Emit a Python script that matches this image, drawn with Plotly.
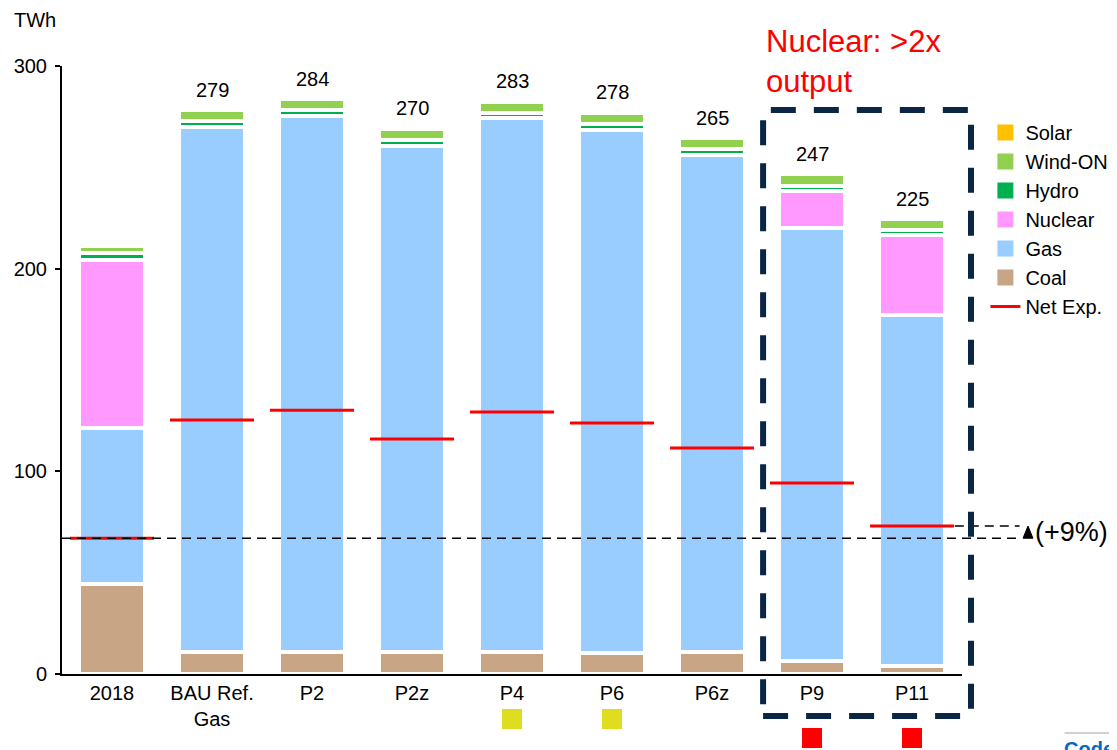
import plotly.graph_objects as go

# ---------------- data ----------------
categories = ["2018", "BAU Ref.<br>Gas", "P2", "P2z", "P4", "P6", "P6z", "P9", "P11"]
coal    = [44.4, 11.1, 11.1, 11.1, 11.1, 10.2, 10.8, 6.6, 3.8]
gas     = [77.0, 258.7, 264.1, 249.5, 263.0, 258.2, 245.4, 213.5, 173.3]
nuclear = [83.1, 0.0, 0.0, 0.0, 0.0, 0.0, 0.0, 18.4, 39.4]
hydro   = [3.4, 2.9, 2.9, 2.9, 2.8, 2.8, 2.8, 2.5, 2.7]
wind_on = [3.3, 5.45, 5.45, 5.4, 5.35, 5.6, 5.6, 5.75, 5.3]
solar   = [0.8, 0.9, 0.5, 1.1, 0.75, 1.2, 0.4, 0.25, 0.5]
totals  = [212, 279, 284, 270, 283, 278, 265, 247, 225]
net_exp = [67.0, 125.3, 130.2, 115.9, 129.3, 123.8, 111.5, 94.2, 73.0]
flags   = [None, None, None, None, "yellow", "yellow", None, "red", "red"]

FONT = "Liberation Sans, Arial, sans-serif"
colors = {
    "Solar": "#FFC000",
    "Wind-ON": "#92D050",
    "Hydro": "#00B050",
    "Nuclear": "#FF99FF",
    "Gas": "#99CCFF",
    "Coal": "#C8A585",
}
series = [("Coal", coal), ("Gas", gas), ("Nuclear", nuclear),
          ("Hydro", hydro), ("Wind-ON", wind_on), ("Solar", solar)]

fig = go.Figure()
for name, vals in series:
    fig.add_trace(go.Bar(
        x=categories, y=vals, name=name, width=0.66,
        marker=dict(color=colors[name], line=dict(color="white", width=4)),
        showlegend=False, hoverinfo="name+y",
    ))

# net exports as wide horizontal dashes
fig.add_trace(go.Scatter(
    x=categories, y=net_exp, mode="markers", name="Net Exp.",
    marker=dict(symbol="line-ew", size=60, color="#FF0000",
                line=dict(color="#FF0000", width=3)),
    showlegend=False, cliponaxis=False,
))

# legend entries (top to bottom)
for name in ["Solar", "Wind-ON", "Hydro", "Nuclear", "Gas", "Coal"]:
    fig.add_trace(go.Scatter(
        x=[None], y=[None], mode="markers", name=name,
        marker=dict(symbol="square", size=16, color=colors[name]),
    ))
fig.add_trace(go.Scatter(
    x=[None], y=[None], mode="lines", name="Net Exp.",
    line=dict(color="#FF0000", width=3),
))

annotations = []
for c, t in zip(categories, totals):
    annotations.append(dict(
        x=c, y=t, text=str(t), showarrow=False, yanchor="bottom", yshift=6,
        font=dict(size=20, color="black", family=FONT),
    ))

annotations += [
    dict(xref="paper", yref="paper", x=-0.056, y=1.055, xanchor="left", yanchor="bottom",
         text="TWh", showarrow=False, font=dict(size=20, color="black", family=FONT)),
    dict(xref="paper", yref="paper", x=0.78, y=1.0717, xanchor="left", yanchor="top",
         text="Nuclear: >2x<br>output", align="left", showarrow=False,
         font=dict(size=31, color="#FF0000", family=FONT)),
    dict(xref="paper", yref="y", x=1.079, y=(net_exp[0] + net_exp[-1]) / 2,
         xanchor="left", yanchor="middle", text="(+9%)", showarrow=False,
         font=dict(size=27, color="black", family=FONT)),
    dict(xref="paper", yref="paper", x=1.111, y=-0.102, xanchor="left", yanchor="top",
         text="<b>Code</b>", showarrow=False,
         font=dict(size=20, color="#0A66C2", family=FONT)),
]

shapes = [
    # dashed reference line at 2018 net exports
    dict(type="line", xref="paper", yref="y", x0=0, x1=1.064,
         y0=net_exp[0], y1=net_exp[0], line=dict(color="black", width=1.5, dash="9px,6px")),
    # dashed line at P11 net exports
    dict(type="line", xref="paper", yref="y", x0=0.992, x1=1.064,
         y0=net_exp[-1], y1=net_exp[-1], line=dict(color="black", width=1.5, dash="9px,6px")),
    # triangle marker
    dict(type="path", xref="paper", yref="y",
         path=f"M 1.0678 {net_exp[0]} L 1.0789 {net_exp[0]} L 1.0733 {net_exp[-1]} Z",
         fillcolor="black", line=dict(color="black", width=1)),
    # dashed highlight box
    dict(type="rect", xref="paper", yref="paper", x0=0.779, x1=1.01, y0=-0.069, y1=0.9276,
         line=dict(color="#0B2545", width=6, dash="25px,18px"), fillcolor="rgba(0,0,0,0)"),
    # thin grey separator bottom right
    dict(type="line", xref="paper", yref="paper", x0=1.114, x1=1.2, y0=-0.097, y1=-0.097,
         line=dict(color="#D0D0D0", width=2)),
]

flag_colors = {"yellow": "#E0DC20", "red": "#FF0000"}
flag_rows = {"yellow": (-0.0905, -0.0576), "red": (-0.1217, -0.0888)}
for i, f in enumerate(flags):
    if f:
        y0, y1 = flag_rows[f]
        shapes.append(dict(type="rect", xref="x", yref="paper",
                           x0=i - 0.1, x1=i + 0.1, y0=y0, y1=y1,
                           fillcolor=flag_colors[f], line=dict(width=0)))

fig.update_layout(
    width=1109, height=742,
    margin=dict(l=54, r=155, t=58, b=76, autoexpand=False),
    barmode="stack",
    plot_bgcolor="white", paper_bgcolor="white",
    font=dict(family=FONT, size=20, color="black"),
    showlegend=True,
    legend=dict(x=1.026, y=0.9227, xanchor="left", yanchor="top",
                font=dict(size=20, family=FONT), bgcolor="rgba(0,0,0,0)",
                traceorder="normal"),
    annotations=annotations,
    shapes=shapes,
    xaxis=dict(range=[-0.5, 8.5], showgrid=False, showline=True, linecolor="black",
               linewidth=2, ticks="", tickfont=dict(size=20), fixedrange=True),
    yaxis=dict(range=[0, 300], tickvals=[0, 100, 200, 300], showgrid=False,
               zeroline=False, showline=True, linecolor="black", linewidth=2,
               ticks="outside", ticklen=5, tickwidth=2, tickcolor="black",
               tickfont=dict(size=20), ticklabelstandoff=4),
)

fig.write_html("out.html")
